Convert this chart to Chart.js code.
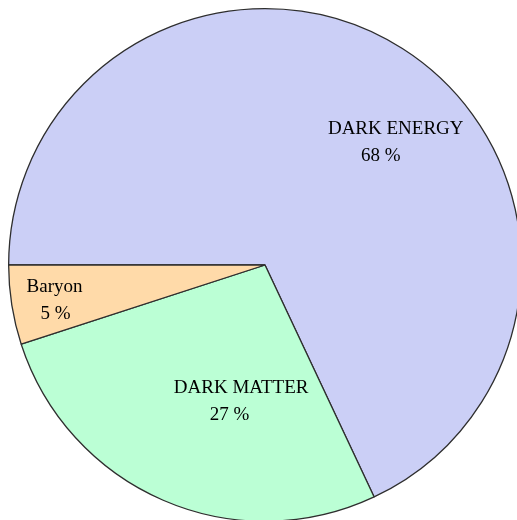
<!DOCTYPE html>
<html>
<head>
<meta charset="utf-8">
<script src="https://cdn.jsdelivr.net/npm/chart.js@4/dist/chart.umd.min.js"></script>
<style>
  html, body { margin: 0; padding: 0; background: #fff; overflow: hidden; }
  #wrap { position: absolute; left: 8px; top: 8px; width: 514px; height: 514px; }
</style>
</head>
<body>
<div id="wrap"><canvas id="myChart"></canvas></div>
<script>
// composition of the universe, in percent
const components = ['DARK ENERGY', 'DARK MATTER', 'Baryon'];
const shares = [68, 27, 5];
const sliceColors = ['#cbcff6', '#bbffd5', '#ffdaa9'];

// where each label sits, as a fraction of the radius from the centre,
// plus a small horizontal nudge for the percentage line
const labelAnchor = [[0.510, -0.510], [-0.093, 0.498], [-0.821, 0.105]];
const valueShift = [-15, -11.5, 1];

const pieLabels = {
    id: 'pieLabels',
    afterDatasetsDraw(chart) {
        const ctx = chart.ctx;
        const arcs = chart.getDatasetMeta(0).data;
        ctx.save();
        ctx.fillStyle = '#000';
        ctx.font = '19px "Liberation Serif", "Times New Roman", serif';
        ctx.textAlign = 'center';
        ctx.textBaseline = 'alphabetic';
        arcs.forEach((arc, i) => {
            const r = arc.outerRadius;
            const x = arc.x + labelAnchor[i][0] * r;
            const y = arc.y + labelAnchor[i][1] * r;
            ctx.fillText(components[i], x, y);
            ctx.fillText(shares[i] + ' %', x + valueShift[i], y + 27);
        });
        ctx.restore();
    }
};

chartIt();

function chartIt() {
    const ctx = document.getElementById('myChart').getContext('2d');
    const myChart = new Chart(ctx, {
        type: 'pie',
        data: {
            labels: components,
            datasets: [{
                data: shares,
                backgroundColor: sliceColors,
                borderColor: '#2e2e2e',
                borderWidth: 1.3
            }]
        },
        options: {
            responsive: true,
            maintainAspectRatio: false,
            animation: false,
            rotation: 270,
            layout: { padding: 0 },
            plugins: {
                legend: { display: false },
                tooltip: { enabled: false }
            }
        },
        plugins: [pieLabels]
    });
}
</script>
</body>
</html>
